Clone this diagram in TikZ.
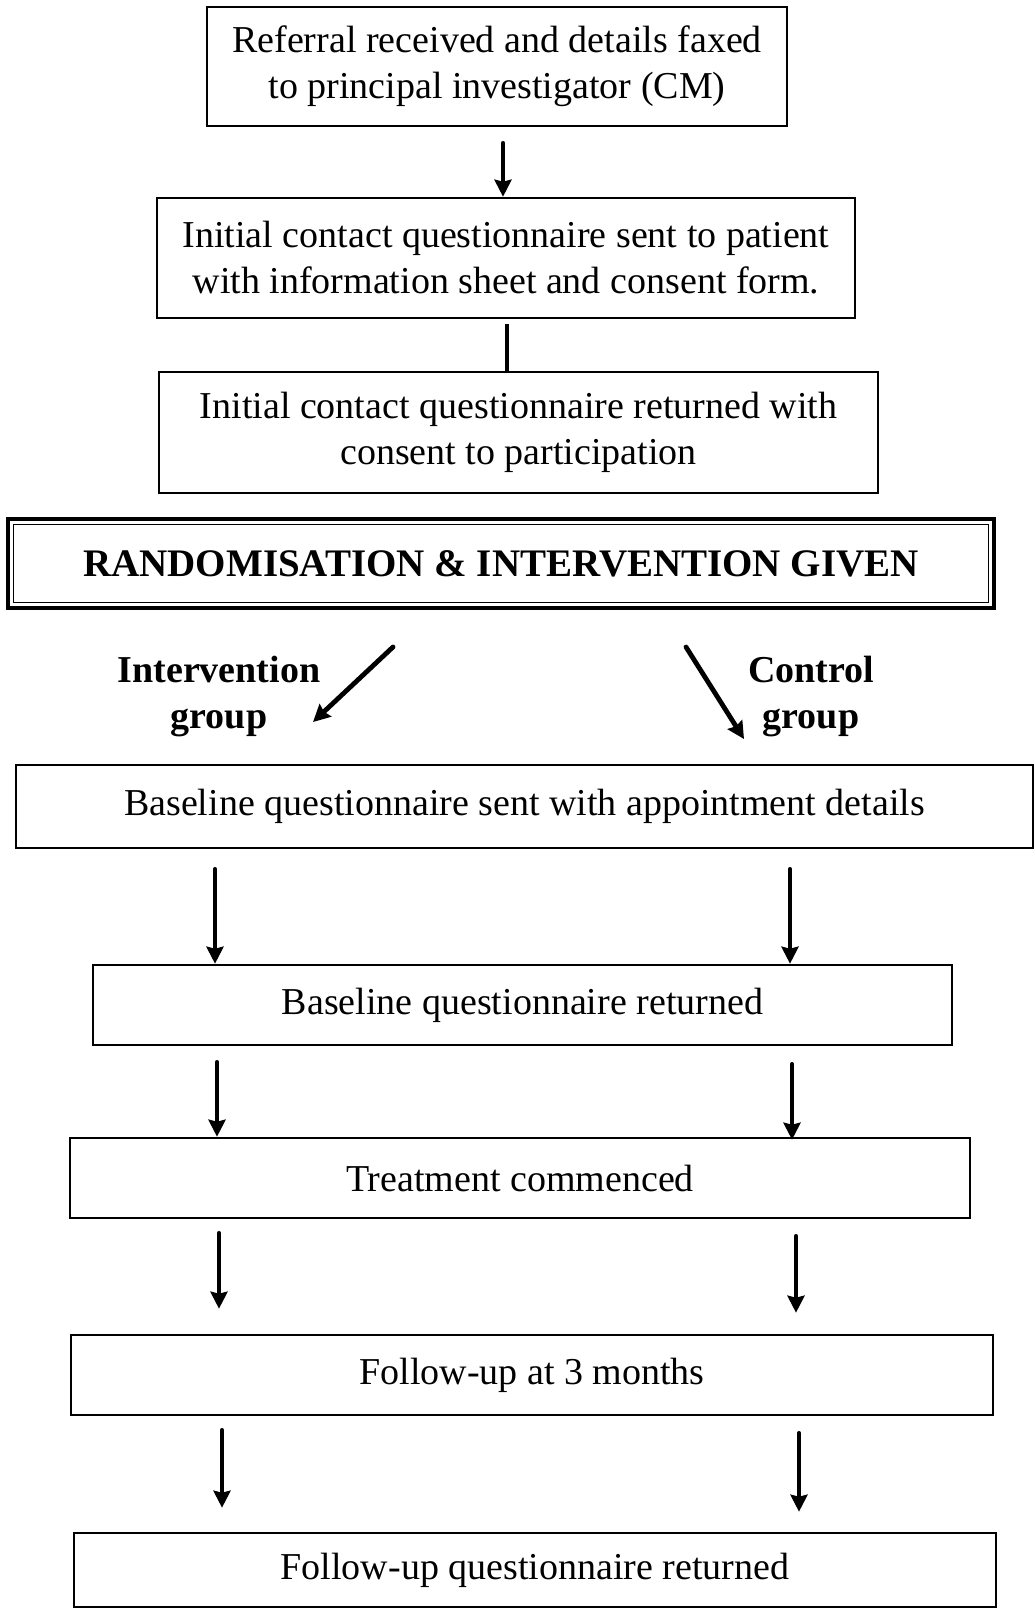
\documentclass[tikz,border=0pt]{standalone}
\usepackage{fontspec}
\setmainfont{Liberation Serif}
\usetikzlibrary{arrows.meta,calc}
\begin{document}
\begin{tikzpicture}[x=1pt,y=-1pt,
  box/.style={draw, line width=2.6pt, align=center, inner sep=0pt,
              font=\fontsize{38}{46}\selectfont},
  arr/.style={line width=4.8pt, line cap=round,
              -{Stealth[length=17pt,width=17pt,inset=2pt]}},
  link/.style={line width=4.8pt},
  grp/.style={align=center, inner sep=0pt, font=\fontsize{38}{46}\selectfont\bfseries}]
\useasboundingbox (0,0) rectangle (1035,1610);

% upper chain
\node[box, minimum width=580pt, minimum height=119pt] (referral) at (497,66.5)
  {Referral received and details faxed\\to principal investigator (CM)};
\node[box, minimum width=698pt, minimum height=120pt] (sent) at (506,258)
  {Initial contact questionnaire sent to patient\\with information sheet and consent form.};
\node[box, minimum width=719pt, minimum height=121pt] (consent) at (518.5,432.5)
  {Initial contact questionnaire returned with\\consent to participation};

% randomisation box with double frame
\node[draw, line width=4pt, minimum width=986pt, minimum height=89pt, inner sep=0pt,
      font=\fontsize{39}{46}\selectfont\bfseries] (rand) at (501,563.5)
  {RANDOMISATION \& INTERVENTION GIVEN};
\draw[line width=1.6pt] ($(rand.north west)+(7.5,7.5)$) rectangle ($(rand.south east)+(-7.5,-7.5)$);

% group labels
\node[grp] (ivlab) at (219,696) {Intervention\\group};
\node[grp] (ctlab) at (811,696) {Control\\group};
\coordinate (ivend) at (313,722);
\coordinate (ctend) at (744,739);

% lower chain
\node[box, minimum width=1017pt, minimum height=83pt] (base) at (524.5,806.5)
  {Baseline questionnaire sent with appointment details};
\node[box, minimum width=859pt, minimum height=80pt] (baseret) at (522.5,1005)
  {Baseline questionnaire returned};
\node[box, minimum width=900pt, minimum height=80pt] (treat) at (520,1178)
  {Treatment commenced};
\node[box, minimum width=922pt, minimum height=80pt] (fu) at (532,1375)
  {Follow-up at 3 months};
\node[box, minimum width=922pt, minimum height=74pt] (furet) at (535,1570)
  {Follow-up questionnaire returned};

\coordinate (colL) at (215,0);
\coordinate (colR) at (790,0);

% connectors of the upper chain
\draw[arr] ($(referral.south)+(6,16)$) -- ($(sent.north)+(-3,0)$);
\draw[link] ($(sent.south)+(1,5)$) -- ($(consent.north)+(-11.5,0)$);

% split into the two groups
\draw[arr] ($(rand.south)+(-108,37)$) -- (ivend);
\draw[arr] ($(rand.south)+(185,37)$) -- (ctend);

% parallel arrows of the two groups
\draw[arr] ($(base.south -| colL)+(0,20)$) -- (baseret.north -| colL);
\draw[arr] ($(base.south -| colR)+(0,20)$) -- (baseret.north -| colR);
\draw[arr] ($(baseret.south -| colL)+(2,16)$) -- ($(treat.north -| colL)+(2,0)$);
\draw[arr] ($(baseret.south -| colR)+(2,18)$) -- ($(treat.north -| colR)+(2,3)$);
\draw[arr] ($(treat.south -| colL)+(4,14)$) -- ($(fu.north -| colL)+(4,-25)$);
\draw[arr] ($(treat.south -| colR)+(6,17)$) -- ($(fu.north -| colR)+(6,-21)$);
\draw[arr] ($(fu.south -| colL)+(7,14)$) -- ($(furet.north -| colL)+(7,-24)$);
\draw[arr] ($(fu.south -| colR)+(9,17)$) -- ($(furet.north -| colR)+(9,-20)$);
\end{tikzpicture}
\end{document}
